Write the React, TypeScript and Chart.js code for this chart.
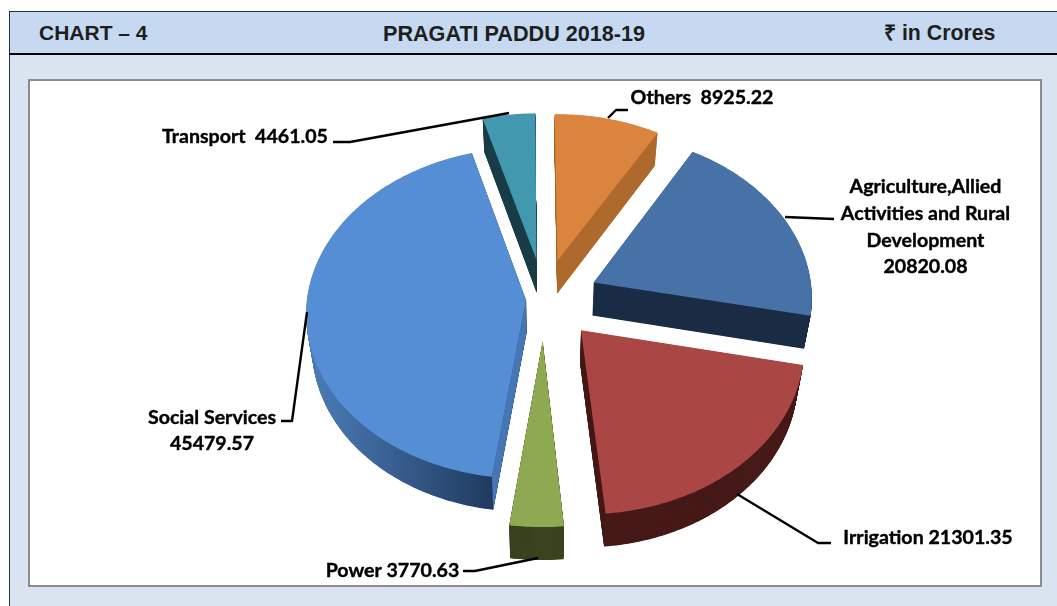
import React, { useEffect, useRef } from "react";
import { Chart, registerables } from "chart.js";

Chart.register(...registerables);

const categories = ["Agriculture,Allied Activities and Rural Development", "Irrigation", "Power", "Social Services", "Transport", "Others"];
const values = [20820.08, 21301.35, 3770.63, 45479.57, 4461.05, 8925.22];
const topColors = ["#4672a8", "#aa4643", "#8ea952", "#558ed5", "#4198af", "#db843d"];
const wallColors = ["#1c2d46", "#461a18", "#3a421f", "#2f5685", "#1a3e48", "#ae6a2d"];
const explode = [0.25, 0.25, 0.25, 0.082, 0.245, 0.245];
const drawOrder = [4, 5, 0, 3, 1, 2];

const labelLines = [
  { lines: ["Others  8925.22"], x: 702, y: [98] },
  { lines: ["Transport  4461.05"], x: 245, y: [137] },
  { lines: ["Agriculture,Allied", "Activities and Rural", "Development", "20820.08"], x: 925.5, y: [187, 214, 241, 267] },
  { lines: ["Irrigation 21301.35"], x: 928, y: [538] },
  { lines: ["Power 3770.63"], x: 392.5, y: [571] },
  { lines: ["Social Services", "45479.57"], x: 212, y: [418, 444] },
];
const leaders = [
  [[608, 118], [616, 110], [628, 110]],
  [[333, 142], [350, 142], [509, 113]],
  [[785, 217], [834, 219]],
  [[737, 494], [818, 543], [831, 543]],
  [[463, 571], [475, 571], [538, 558]],
  [[307, 312], [292, 421], [281, 421]],
];

const ROTATION_TRIM = -0.5;
const TILT = 0.75;
const PERSP = 0.08;
const DEPTH = 33;
const SHRINK = 0.975;

const pie3d = {
  id: "pie3d",
  beforeDatasetDraw(chart: any) {
    const ctx = chart.ctx;
    const arcs = chart.getDatasetMeta(0).data;
    const project = (arc: any, u: number, v: number, d: number) => {
      const w = 1 - PERSP * v;
      const R = arc.outerRadius;
      const sx = 1 - (1 - SHRINK) * (d / DEPTH);
      return [arc.x + (R * u * sx) / w, arc.y + (R * TILT * v) / w + d];
    };
    const outline = (arc: any, i: number, d: number) => {
      const mid = (arc.startAngle + arc.endAngle) / 2;
      const ou = explode[i] * Math.cos(mid);
      const ov = explode[i] * Math.sin(mid);
      const pts = [project(arc, ou, ov, d)];
      const n = Math.ceil(((arc.endAngle - arc.startAngle) * 180) / Math.PI);
      for (let k = 0; k <= n; k++) {
        const a = arc.startAngle + ((arc.endAngle - arc.startAngle) * k) / n;
        pts.push(project(arc, ou + Math.cos(a), ov + Math.sin(a), d));
      }
      return pts;
    };
    const fillPath = (pts: number[][], color: any) => {
      ctx.beginPath();
      pts.forEach((p, k) => (k ? ctx.lineTo(p[0], p[1]) : ctx.moveTo(p[0], p[1])));
      ctx.closePath();
      ctx.fillStyle = color;
      ctx.fill();
    };
    drawOrder.forEach((i) => {
      const arc = arcs[i];
      let wall: any = wallColors[i];
      if (i === 3) {
        wall = ctx.createLinearGradient(315, 0, 493, 0);
        wall.addColorStop(0, "#4a7ab5");
        wall.addColorStop(0.35, "#3c6598");
        wall.addColorStop(1, "#1f3a5f");
      }
      for (let d = DEPTH; d > 0; d -= 0.5) fillPath(outline(arc, i, d), wall);
      if (i === 3) {
        const top = outline(arc, i, 0);
        const bot = outline(arc, i, DEPTH);
        fillPath([top[0], top[1], bot[1], bot[0]], "#4676b4");
      }
      fillPath(outline(arc, i, 0), arc.options.backgroundColor);
    });
    return false;
  },
  afterDraw(chart: any) {
    const ctx = chart.ctx;
    ctx.save();
    ctx.strokeStyle = "#000";
    ctx.lineWidth = 2.4;
    ctx.lineJoin = "round";
    leaders.forEach((pts) => {
      ctx.beginPath();
      pts.forEach((p, k) => (k ? ctx.lineTo(p[0], p[1]) : ctx.moveTo(p[0], p[1])));
      ctx.stroke();
    });
    ctx.fillStyle = "#000";
    ctx.font = "bold 19.6px Lato";
    ctx.textAlign = "center";
    ctx.textBaseline = "middle";
    ctx.lineWidth = 0.4;
    labelLines.forEach((l) =>
      l.lines.forEach((t, k) => {
        ctx.fillText(t, l.x, l.y[k]);
        ctx.strokeText(t, l.x, l.y[k]);
      })
    );
    ctx.restore();
  },
};

const headerText: React.CSSProperties = {
  position: "absolute",
  top: 11,
  height: 42,
  fontFamily: "'Liberation Sans'",
  fontWeight: "bold",
  lineHeight: "42px",
  color: "#1e1e1e",
  whiteSpace: "nowrap",
};

export default function App() {
  const ref = useRef<HTMLCanvasElement>(null);
  useEffect(() => {
    const chart = new Chart(ref.current as HTMLCanvasElement, {
      type: "pie",
      data: {
        labels: categories,
        datasets: [{ data: values, backgroundColor: topColors, borderWidth: 0 }],
      },
      options: {
        animation: false,
        responsive: false,
        rotation: (360 * values[5]) / values.reduce((a, b) => a + b, 0) + ROTATION_TRIM,
        layout: { padding: { left: 325, right: 294, top: 80, bottom: 88 } },
        plugins: { legend: { display: false }, tooltip: { enabled: false } },
        events: [],
      },
      plugins: [pie3d],
    } as any);
    return () => chart.destroy();
  }, []);
  return (
    <div style={{ position: "absolute", left: 0, top: 0, width: 1057, height: 606, overflow: "hidden", background: "#fff" }}>
      <div style={{ position: "absolute", left: 9, top: 11, width: 1048, height: 595, background: "#dae4f0", borderLeft: "1px solid #1f3050", boxSizing: "border-box" }} />
      <div style={{ position: "absolute", left: 9, top: 11, width: 1048, height: 44, background: "#c6d9f0", borderTop: "1px solid #1f3050", borderLeft: "1px solid #1f3050", borderBottom: "2px solid #000", boxSizing: "border-box" }} />
      <div style={{ ...headerText, left: 39, fontSize: 21, top: 12 }}>CHART – 4</div>
      <div style={{ ...headerText, left: 383, fontSize: 21.6, top: 13 }}>PRAGATI PADDU 2018-19</div>
      <div style={{ ...headerText, left: 884, fontSize: 21.3, top: 12 }}>₹ in Crores</div>
      <div style={{ position: "absolute", left: 28, top: 79, width: 1014, height: 508, background: "#fff", border: "2.5px solid #8c8c8c", boxSizing: "border-box" }} />
      <canvas ref={ref} width={1057} height={606} style={{ position: "absolute", left: 0, top: 0 }} />
    </div>
  );
}
